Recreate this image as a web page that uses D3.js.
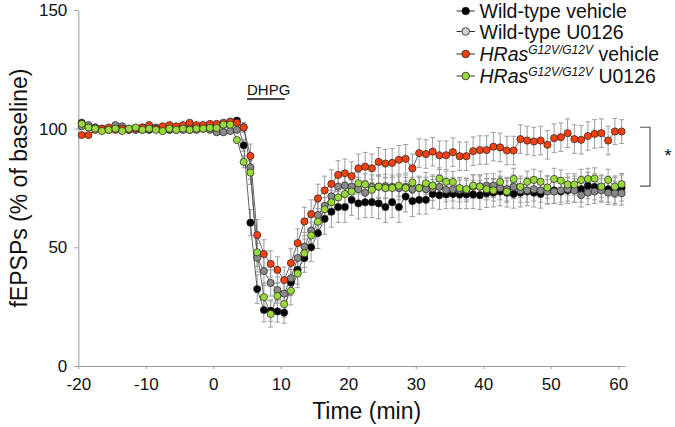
<!DOCTYPE html>
<html><head><meta charset="utf-8">
<script src="https://cdn.jsdelivr.net/npm/d3@7"></script>
<style>
html,body{margin:0;padding:0;background:#fff;}
svg{display:block;font-family:"Liberation Sans",Arial,sans-serif;}
</style></head>
<body><svg id="chart" width="675" height="427"></svg>
<script>
// ---- data ----
const times = [-19.5,-18.5,-17.5,-16.5,-15.5,-14.5,-13.5,-12.5,-11.5,-10.5,-9.5,-8.5,-7.5,-6.5,-5.5,-4.5,-3.5,-2.5,-1.5,-0.5,0.5,1.5,2.5,3.5,
 4.5,5.5,6.5,7.5,8.5,9.5,10.5,11.5,12.5,13.5,14.5,15.5,16.5,17.5,18.5,19.5,
 20.5,21.5,22.5,23.5,24.5,25.5,26.5,27.5,28.5,29.5,30.5,31.5,32.5,33.5,34.5,35.5,36.5,37.5,38.5,39.5,
 40.5,41.5,42.5,43.5,44.5,45.5,46.5,47.5,48.5,49.5,50.5,51.5,52.5,53.5,54.5,55.5,56.5,57.5,58.5,59.5,60.5];
const seriesNames = ["Wild-type vehicle","Wild-type U0126","HRas vehicle","HRas U0126"];
const wtVehicle = [102.5,101,100.5,99.5,100,101,100,99.5,100,100.5,99.5,100,100,99.5,100.5,100,99.5,100.5,100,101,101.5,101.5,102.5,103.4,
 93,60.4,32.4,23.6,23.3,23,22.5,35.2,40.5,45.5,50,56,62,65,67,67,
 70,68.5,69,69,68.5,67,69,67,71.4,69.5,70,70,72.5,72,72.3,72.5,72.3,72.3,72.3,72,
 72.8,73,73.5,73,72.5,73,73.5,73,72.5,74.2,74,73.5,74,74.5,74.5,76,75.5,75,74.5,74,75];
const wtU0126 = [101,101.5,100.5,100,99.5,101.5,101,100,99.5,99.5,100,100.5,99.5,100,99.5,99.5,100,99.5,100.5,99.5,98.5,98.5,99,99.5,
 100.6,83.7,45.6,40,35,32,30.5,37,45.5,50.3,57,63.6,67.5,71.5,75.6,76,
 75.6,74.5,73,75.5,75.6,75.8,75.5,75,75.5,74.5,75,74.5,74.8,75.5,74.2,74.5,74.2,74.2,75.6,75.6,
 76,76,75,74.5,75.5,74,74,74.5,74,73.5,73.5,74,74.5,74,72,73,73.5,74,73,72.8,72.8];
const hrasVehicle = [97.3,97.3,99.5,100,100.5,99.5,100,99.5,100,100.5,101.5,100,101,101.5,101,101.5,102.5,101.5,101.5,102,102,102.5,103,102.5,
 100.5,88.5,55.2,47.2,43,40.5,36.2,43.4,51.8,60.9,64,70.6,74,76.7,80.5,81.2,
 80,83.3,84,83.3,86,85.3,85.6,86.9,87.3,83.3,89.7,89.3,90.3,88.8,88.8,90.1,88.4,88.4,90.5,91,
 91,92.4,92.1,90.8,90.8,95.6,95,94.6,95,93.2,96,96.4,98.1,95.6,95.3,96.9,97.8,98.1,95,98.8,98.8];
const hrasU0126 = [102,100.5,100,99,99.5,100,99,100,100.5,99.5,100,99.5,99,100,99.5,100,99.5,100,100,100.3,100.3,101.7,101.7,95.2,
 86,81.5,47.9,29,21.9,29.5,26.1,31.7,39,47.5,55,60.8,66,69,71,72.5,
 73.5,77,76.5,74.2,75.6,75,75,76,75,77.3,75,77,76,79,77.6,77.5,75,74.5,76,75.6,
 74.5,74,77.6,73.5,78.8,75.5,77.6,78.4,77.6,75.2,78.8,78.1,76.5,76.5,78.4,78.8,79,75.6,78.4,75.6,76.6];
const wtVehicleSem = [1.2,1.1,1.0,1.1,1.0,1.2,1.0,1.1,1.0,1.2,1.0,1.1,1.0,1.2,1.1,1.0,1.2,1.1,1.0,1.2,1.3,1.4,1.5,1.6,
 2.5,5.5,6,5,4.5,4.5,4.5,5.5,6,6,6,6.5,6.5,6.5,6.5,6.5,
 6.5,6.5,6.5,6.5,6.5,6.5,6.5,6.5,6.5,6.5,6,6,6,6,6,6,6,6,6,6,
 6,6,6,6,6,6,6,6,6,6,5.5,5.5,5.5,5.5,5.5,5.5,5.5,5.5,5.5,5.5,5.5];
const wtU0126Sem = [1.1,1.0,1.2,1.0,1.1,1.0,1.2,1.0,1.1,1.0,1.2,1.0,1.1,1.0,1.2,1.0,1.1,1.0,1.2,1.0,1.3,1.4,1.5,1.5,
 2,5,6,6,5.5,5.5,5.5,6,6,6,5.5,5.5,5.5,5,5,5,
 5,5,5,5,5,5,5,5,5,5,5,5,5,5,5,5,5,5,5,5,
 5,5,5,5,5,5,5,5,5,5,5,5,5,5,5,5,5,5,5,5,5];
const hrasVehicleSem = [1.2,1.2,1.0,1.1,1.0,1.2,1.0,1.1,1.0,1.2,1.0,1.1,1.0,1.2,1.1,1.0,1.2,1.1,1.0,1.2,1.3,1.4,1.5,1.5,
 2,5,6.5,6,5.5,5.5,5.5,6,6,6,6,6,6,6,6,6,
 6,6,6,6,6,6,6,6,6,6,6,6,6,6,6,6,6,6,6,6,
 6,6,6,6,6,6,6,6,6,6,6,6,6,6,6,6,6,6,6,5.5,5];
const hrasU0126Sem = [1.1,1.0,1.2,1.0,1.1,1.0,1.2,1.0,1.1,1.0,1.2,1.0,1.1,1.0,1.2,1.0,1.1,1.0,1.2,1.0,1.3,1.4,1.5,1.6,
 2.5,5,6,6,5.5,5.5,5.5,6,6,6,5.5,5.5,5,5,5,5,
 4.5,4.5,4.5,4.5,4.5,4.5,4.5,4.5,4.5,4.5,4.5,4.5,4.5,4.5,4.5,4.5,4.5,4.5,4.5,4.5,
 4.5,4.5,4.5,4.5,4.5,4.5,4.5,4.5,4.5,4.5,4.5,4.5,4.5,4.5,4.5,4.5,4.5,4.5,4.5,4.5,4.5];
const xTicks = [-20,-10,0,10,20,30,40,50,60];
const yTicks = [0,50,100,150];
const dhpgWindow = [5, 10.6];
const bracketRange = [75.8, 100.6];

// ---- chart ----
const svg = d3.select("#chart");
const x = d3.scaleLinear().domain([-20, 61]).range([78.3, 625]);
const y = d3.scaleLinear().domain([0, 150]).range([366, 10]);
const axisColor = "#9a9a9a";
const fontFam = "Liberation Sans, Arial, sans-serif";

// axes
const gx = svg.append("g").attr("transform", `translate(0,${y(0)})`)
  .call(d3.axisBottom(x).tickValues(xTicks).tickSize(3).tickSizeOuter(0).tickFormat(d => String(d)));
gx.select(".domain").attr("stroke", axisColor);
gx.selectAll(".tick line").attr("stroke", axisColor);
gx.selectAll(".tick text").attr("font-size", 17).attr("fill", "#111").attr("dy", "1.05em")
  .attr("font-family", fontFam);

const gy = svg.append("g").attr("transform", `translate(${x(-20)},0)`)
  .call(d3.axisLeft(y).tickValues(yTicks).tickSize(4).tickSizeOuter(0).tickFormat(d => String(d)));
gy.select(".domain").attr("stroke", axisColor);
gy.selectAll(".tick line").attr("stroke", axisColor);
gy.selectAll(".tick text").attr("font-size", 17).attr("fill", "#111").attr("x", -11)
  .attr("font-family", fontFam);

// axis titles
svg.append("text").attr("x", (x(-20)+x(61))/2 + 15).attr("y", 419).attr("text-anchor", "middle")
  .attr("font-size", 23).attr("fill", "#111").text("Time (min)");
svg.append("text").attr("transform", `translate(27,${y(75)}) rotate(-90)`).attr("text-anchor", "middle")
  .attr("font-size", 23).attr("fill", "#111").text("fEPSPs (% of baseline)");

// DHPG bar
svg.append("text").attr("x", x(dhpgWindow[0])).attr("y", 95).attr("font-size", 15).attr("fill", "#111").text("DHPG");
svg.append("line").attr("x1", x(dhpgWindow[0])).attr("x2", x(dhpgWindow[1])).attr("y1", 99).attr("y2", 99)
  .attr("stroke", "#111").attr("stroke-width", 1.5);

// series
const series = [
  {name: seriesNames[0], vals: wtVehicle, sem: wtVehicleSem, fill: "#000000"},
  {name: seriesNames[1], vals: wtU0126, sem: wtU0126Sem, fill: "#8a8a8a", legendFill: "#d4d4d4"},
  {name: seriesNames[2], vals: hrasVehicle, sem: hrasVehicleSem, fill: "#f5400f"},
  {name: seriesNames[3], vals: hrasU0126, sem: hrasU0126Sem, fill: "#9ad93c"}
];

const errG = svg.append("g");
series.forEach(s => {
  const pts = times.map((t, i) => ({t, v: s.vals[i], e: s.sem[i]}));
  const g = errG.append("g").attr("stroke", "#9c9c9c").attr("stroke-width", 1);
  pts.forEach(p => {
    if (p.e < 1.8) return;
    const cx = x(p.t);
    g.append("line").attr("x1", cx).attr("x2", cx).attr("y1", y(p.v - p.e)).attr("y2", y(p.v + p.e));
    g.append("line").attr("x1", cx - 2.5).attr("x2", cx + 2.5).attr("y1", y(p.v + p.e)).attr("y2", y(p.v + p.e));
    g.append("line").attr("x1", cx - 2.5).attr("x2", cx + 2.5).attr("y1", y(p.v - p.e)).attr("y2", y(p.v - p.e));
  });
});

const line = d3.line().x(d => x(d.t)).y(d => y(d.v));
series.forEach(s => {
  const pts = times.map((t, i) => ({t, v: s.vals[i]}));
  svg.append("path").datum(pts).attr("d", line).attr("fill", "none").attr("stroke", "#555").attr("stroke-width", 0.9);
});
series.forEach(s => {
  const pts = times.map((t, i) => ({t, v: s.vals[i]}));
  svg.append("g").selectAll("circle").data(pts).join("circle")
    .attr("cx", d => x(d.t)).attr("cy", d => y(d.v)).attr("r", 3.6)
    .attr("fill", s.fill).attr("stroke", "#222").attr("stroke-width", 0.7);
});

// bracket and asterisk
const bx = 650;
svg.append("path").attr("d", `M${bx-10},${y(bracketRange[1])}H${bx}V${y(bracketRange[0])}H${bx-10}`)
  .attr("fill", "none").attr("stroke", "#555").attr("stroke-width", 1.2);
svg.append("text").attr("x", 668).attr("y", 162).attr("text-anchor", "middle").attr("font-size", 18).attr("fill", "#111").text("*");

// legend
const legend = svg.append("g");
const rowsY = [11, 31.5, 54, 76];
series.forEach((s, i) => {
  const ry = rowsY[i];
  legend.append("line").attr("x1", 456.5).attr("x2", 475).attr("y1", ry).attr("y2", ry).attr("stroke", "#333").attr("stroke-width", 1);
  legend.append("circle").attr("cx", 465.7).attr("cy", ry).attr("r", 3.8)
    .attr("fill", s.legendFill || s.fill).attr("stroke", "#222").attr("stroke-width", 0.8);
  const t = legend.append("text").attr("x", 479.5).attr("y", ry + 7).attr("font-size", 19.5).attr("fill", "#111");
  if (i < 2) {
    t.text(s.name);
  } else {
    t.append("tspan").attr("font-style", "italic").text("HRas");
    t.append("tspan").attr("font-style", "italic").attr("font-size", 12).attr("dy", -7).text("G12V/G12V");
    t.append("tspan").attr("dy", 7).text(i === 2 ? " vehicle" : " U0126");
  }
});
</script>
</body></html>
